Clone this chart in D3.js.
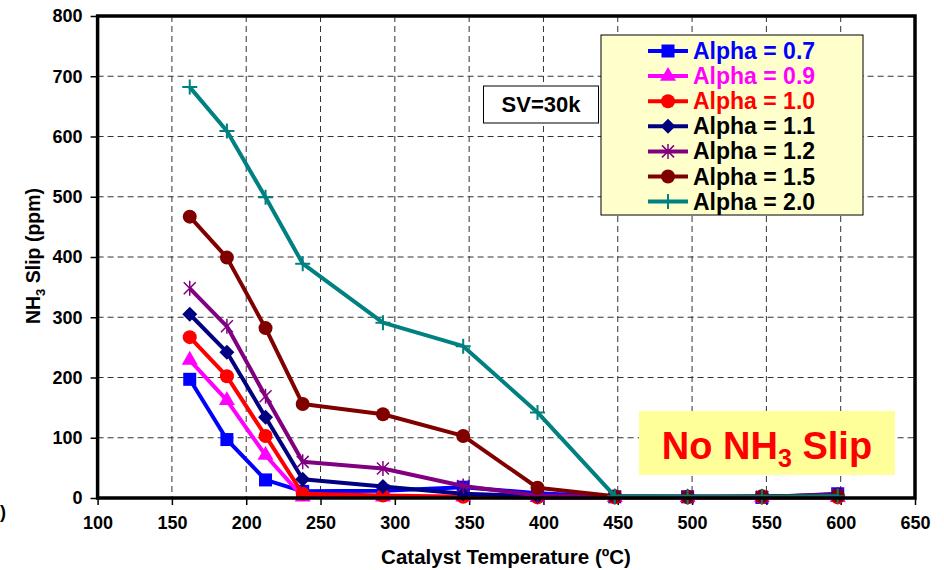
<!DOCTYPE html>
<html>
<head>
<meta charset="utf-8">
<script src="https://cdn.jsdelivr.net/npm/d3@7"></script>
<style>
  body { margin: 0; background: #fff; }
  text { font-family: "Liberation Sans", Arial, sans-serif; font-weight: bold; }
</style>
</head>
<body>
<script>
// catalyst temperatures (C) and NH3 slip (ppm) per alpha
var temps    = [162, 187, 213, 238, 292, 346, 396, 448, 497, 547, 598];
var alpha07  = [197, 97, 30, 11, 12, 18, 8, 2, 2, 1, 7];
var alpha09  = [229, 162, 71, 2, 2, 2, 1, 1, 1, 1, 1];
var alpha10  = [267, 202, 103, 7, 4, 2, 1, 1, 1, 1, 1];
var alpha11  = [305, 242, 134, 31, 19, 7, 3, 2, 2, 2, 4];
var alpha12  = [348, 285, 169, 60, 49, 20, 4, 2, 2, 2, 6];
var alpha15  = [467, 399, 282, 156, 139, 103, 17, 3, 2, 3, 4];
var alpha20  = [682, 609, 499, 389, 291, 252, 142, 3, 2, 2, 3];

var seriesNames = ['Alpha = 0.7', 'Alpha = 0.9', 'Alpha = 1.0', 'Alpha = 1.1', 'Alpha = 1.2', 'Alpha = 1.5', 'Alpha = 2.0'];
var xTicks = [100, 150, 200, 250, 300, 350, 400, 450, 500, 550, 600, 650];
var yTicks = [0, 100, 200, 300, 400, 500, 600, 700, 800];

var series = [
    { name: seriesNames[0], values: alpha07, color: '#0000ff', text: '#0000ff', marker: 'square' },
    { name: seriesNames[1], values: alpha09, color: '#ff00ff', text: '#ff00ff', marker: 'triangle' },
    { name: seriesNames[2], values: alpha10, color: '#ff0000', text: '#ff0000', marker: 'circle' },
    { name: seriesNames[3], values: alpha11, color: '#000080', text: '#000', marker: 'diamond' },
    { name: seriesNames[4], values: alpha12, color: '#800080', text: '#000', marker: 'star' },
    { name: seriesNames[5], values: alpha15, color: '#800000', text: '#000', marker: 'circle' },
    { name: seriesNames[6], values: alpha20, color: '#008080', text: '#000', marker: 'plus' }
];

var W = 944, H = 570,
    margin = { top: 16, right: 29, bottom: 72, left: 97.6 },
    width = W - margin.left - margin.right,
    height = H - margin.top - margin.bottom;

var svg = d3.select('body').append('svg')
    .attr('width', W)
    .attr('height', H);

var g = svg.append('g')
    .attr('transform', 'translate(' + margin.left + ',' + margin.top + ')');

var x = d3.scaleLinear().domain([100, 650]).range([0, width]);
var y = d3.scaleLinear().domain([0, 800]).range([height, 0]);

// dashed grid
g.append('g').selectAll('line').data(xTicks.slice(1, -1)).enter().append('line')
    .attr('x1', function(d) { return x(d); }).attr('x2', function(d) { return x(d); })
    .attr('y1', 0).attr('y2', height)
    .attr('stroke', '#333').attr('stroke-width', 1).attr('stroke-dasharray', '6,4');
g.append('g').selectAll('line').data(yTicks.slice(1, -1)).enter().append('line')
    .attr('y1', function(d) { return y(d); }).attr('y2', function(d) { return y(d); })
    .attr('x1', 0).attr('x2', width)
    .attr('stroke', '#333').attr('stroke-width', 1).attr('stroke-dasharray', '6,4');

// axes
var xAxis = d3.axisBottom(x).tickValues(xTicks).tickSize(7).tickPadding(11);
var yAxis = d3.axisLeft(y).tickValues(yTicks).tickSize(7).tickPadding(8);

g.append('g').attr('class', 'x axis')
    .attr('transform', 'translate(0,' + height + ')')
    .call(xAxis);
g.append('g').attr('class', 'y axis')
    .call(yAxis);

g.selectAll('.axis .domain').remove();
g.selectAll('.axis line').attr('stroke', '#000').attr('stroke-width', 1.5);
g.selectAll('.axis text')
    .attr('fill', '#000')
    .style('font-size', '18px')
    .style('font-family', '"Liberation Sans", Arial, sans-serif')
    .style('font-weight', 'bold');

// SV box
var sv = g.append('g');
sv.append('rect')
    .attr('x', 483.5 - margin.left).attr('y', 86 - margin.top)
    .attr('width', 115).attr('height', 37)
    .attr('fill', '#fff').attr('stroke', '#000').attr('stroke-width', 1);
sv.append('text')
    .attr('x', 541 - margin.left).attr('y', 112 - margin.top)
    .attr('text-anchor', 'middle').style('font-size', '22px')
    .text('SV=30k');

// "No NH3 Slip" box
var ns = g.append('g');
ns.append('rect')
    .attr('x', 639 - margin.left).attr('y', 411 - margin.top)
    .attr('width', 256).attr('height', 64)
    .attr('fill', '#ffff99');
var nsText = ns.append('text')
    .attr('x', 767 - margin.left).attr('y', 459 - margin.top)
    .attr('text-anchor', 'middle').attr('fill', '#ff0000')
    .style('font-size', '38px');
nsText.append('tspan').text('No NH');
nsText.append('tspan').attr('dy', 8).style('font-size', '25px').text('3');
nsText.append('tspan').attr('dy', -8).text(' Slip');

// markers
function drawMarker(sel, type, color) {
    if (type === 'square') {
        sel.append('rect').attr('x', -6.5).attr('y', -6.5).attr('width', 13).attr('height', 13)
            .attr('fill', color);
    } else if (type === 'triangle') {
        sel.append('path').attr('d', d3.symbol(d3.symbolTriangle, 110)()).attr('fill', color);
    } else if (type === 'circle') {
        sel.append('circle').attr('r', 7).attr('fill', color);
    } else if (type === 'diamond') {
        sel.append('path').attr('d', 'M0,-7.5L7.5,0L0,7.5L-7.5,0Z').attr('fill', color);
    } else if (type === 'star') {
        sel.append('path').attr('d', 'M0,-7.5V7.5M-6,-6L6,6M-6,6L6,-6')
            .attr('stroke', color).attr('stroke-width', 1.5).attr('fill', 'none');
    } else if (type === 'plus') {
        sel.append('path').attr('d', 'M0,-7.5V7.5M-7.5,0H7.5')
            .attr('stroke', color).attr('stroke-width', 2).attr('fill', 'none');
    }
}

var line = d3.line()
    .x(function(d, i) { return x(temps[i]); })
    .y(function(d) { return y(d); });

series.forEach(function(s) {
    var sg = g.append('g');
    sg.append('path')
        .datum(s.values)
        .attr('d', line)
        .attr('fill', 'none')
        .attr('stroke', s.color)
        .attr('stroke-width', 4)
        .attr('stroke-linejoin', 'round');
    sg.selectAll('.pt').data(s.values).enter().append('g')
        .attr('class', 'pt')
        .attr('transform', function(d, i) { return 'translate(' + x(temps[i]) + ',' + y(d) + ')'; })
        .each(function() { drawMarker(d3.select(this), s.marker, s.color); });
});

// frame
g.append('rect')
    .attr('x', 0).attr('y', 0).attr('width', width).attr('height', height)
    .attr('fill', 'none').attr('stroke', '#000').attr('stroke-width', 3.5);

// legend
var lg = svg.append('g').attr('transform', 'translate(601,35)');
lg.append('rect')
    .attr('width', 262).attr('height', 180)
    .attr('fill', '#ffffcc').attr('stroke', '#000').attr('stroke-width', 1);
var items = lg.selectAll('.item').data(series).enter().append('g')
    .attr('class', 'item')
    .attr('transform', function(d, i) { return 'translate(0,' + (16 + i * 25.1) + ')'; });
items.append('line')
    .attr('x1', 47).attr('x2', 87)
    .attr('stroke', function(d) { return d.color; })
    .attr('stroke-width', 4);
items.append('g')
    .attr('transform', 'translate(67,0)')
    .each(function(d) { drawMarker(d3.select(this), d.marker, d.color); });
items.append('text')
    .attr('x', 92).attr('y', 8)
    .attr('fill', function(d) { return d.text; })
    .style('font-size', '23px')
    .text(function(d) { return d.name; });

// axis titles
svg.append('text')
    .attr('x', 506).attr('y', 564)
    .attr('text-anchor', 'middle').style('font-size', '20.5px')
    .text('Catalyst Temperature (ºC)');

var yt = svg.append('text')
    .attr('transform', 'translate(40,256) rotate(-90)')
    .attr('text-anchor', 'middle').style('font-size', '19.5px');
yt.append('tspan').text('NH');
yt.append('tspan').attr('dy', 5).style('font-size', '13px').text('3');
yt.append('tspan').attr('dy', -5).text(' Slip (ppm)');

// stray glyph at the left edge
svg.append('text')
    .attr('x', 0).attr('y', 518).style('font-size', '18px').text(')');
</script>
</body>
</html>
